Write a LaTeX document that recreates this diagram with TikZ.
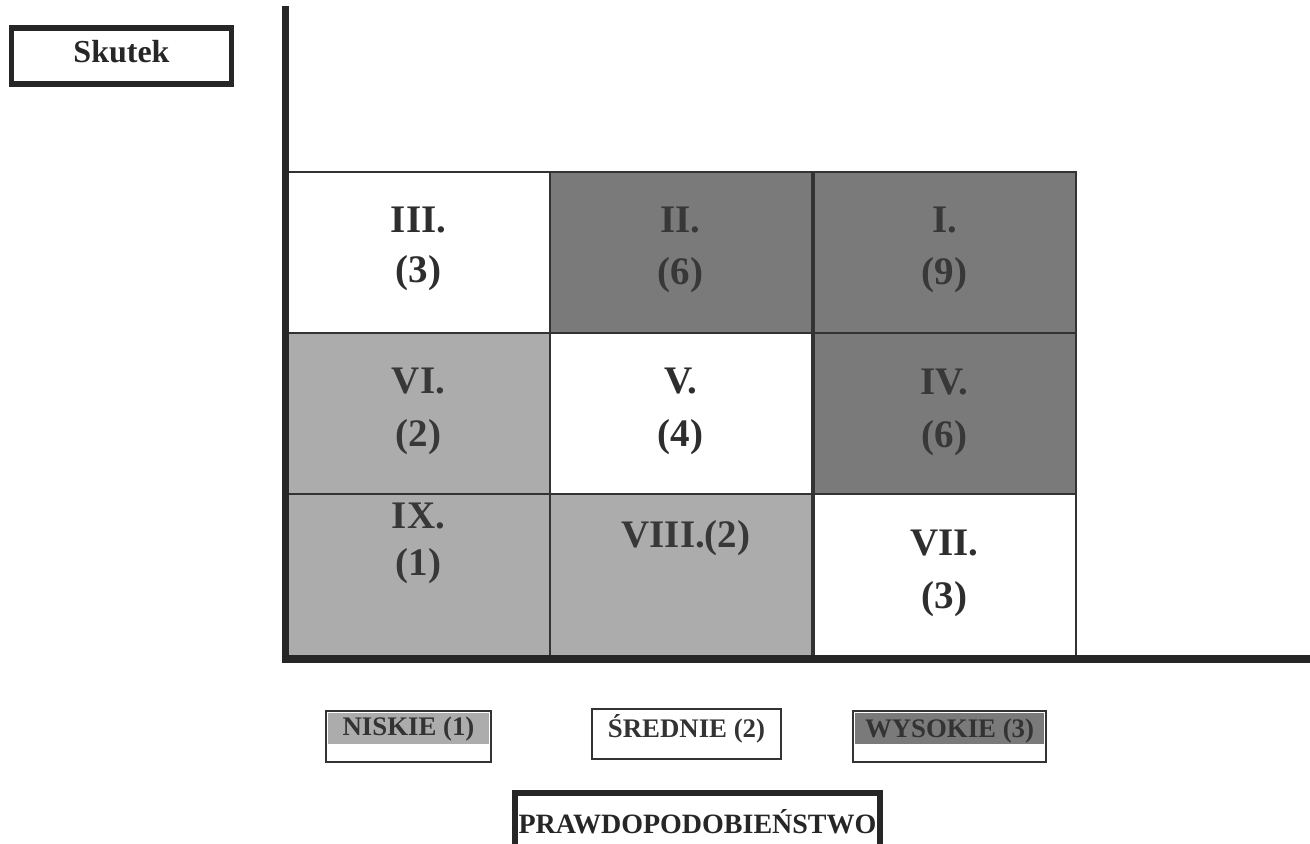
\documentclass[tikz,border=0pt]{standalone}
\usepackage{fontspec}
\setmainfont{Liberation Serif}
\begin{document}
\begin{tikzpicture}[x=0.5pt,y=-0.5pt,
  cell/.style={draw=black!80, line width=1pt, inner sep=0pt, minimum width=131pt, minimum height=81pt},
  celltxt/.style={font=\fontsize{19.5}{22}\selectfont\bfseries, text=black!82},
  darktxt/.style={font=\fontsize{19.5}{22}\selectfont\bfseries, text=black!78},
  legbox/.style={draw=black!80, line width=1pt, inner sep=0pt},
  legtxt/.style={font=\fontsize{13.4}{16}\selectfont\bfseries, text=black!80},
  axis/.style={draw=black!85, line width=3.8pt}
]
\useasboundingbox (0,0) rectangle (1310,844);
\definecolor{cdark}{RGB}{122,122,122}
\definecolor{clight}{RGB}{172,172,172}
% Skutek box
\node[draw=black!85, line width=2.6pt, minimum width=110pt, minimum height=28pt, inner sep=0pt] (sk) at (121.5,56) {};
\node[font=\fontsize{16}{18}\selectfont\bfseries, text=black!85] (skt) at (121.5,52) {Skutek};
% cells row 1
\node[cell, fill=white] (c13) at (418.5,253) {};
\node[cell, fill=cdark] (c12) at (680.5,253) {};
\node[cell, fill=cdark] (c11) at (944.5,253) {};
% row 2
\node[cell, fill=clight] (c23) at (418.5,414) {};
\node[cell, fill=white] (c22) at (680.5,414) {};
\node[cell, fill=cdark] (c21) at (944.5,414) {};
% row 3
\node[cell, fill=clight] (c33) at (418.5,575) {};
\node[cell, fill=clight] (c32) at (680.5,575) {};
\node[cell, fill=white] (c31) at (944.5,575) {};
% texts
\node[celltxt] (t3a) at (418.5,220) {III.};
\node[celltxt] (t3b) at (418.5,273) {(3)};
\node[darktxt] (t2a) at (680.5,220) {II.};
\node[darktxt] (t2b) at (680.5,275) {(6)};
\node[darktxt] (t1a) at (944.5,220) {I.};
\node[darktxt] (t1b) at (944.5,275) {(9)};
\node[darktxt] (t6a) at (418.5,381) {VI.};
\node[darktxt] (t6b) at (418.5,437) {(2)};
\node[celltxt] (t5a) at (680.5,381) {V.};
\node[celltxt] (t5b) at (680.5,437) {(4)};
\node[darktxt] (t4a) at (944.5,382) {IV.};
\node[darktxt] (t4b) at (944.5,438) {(6)};
\node[darktxt] (t9a) at (418.5,516) {IX.};
\node[darktxt] (t9b) at (418.5,566) {(1)};
\node[darktxt] (t8) at (686,538) {VIII.(2)};
\node[celltxt] (t7a) at (944.5,543) {VII.};
\node[celltxt] (t7b) at (944.5,599) {(3)};
% axes
\coordinate (ytop) at (285.5,10);
\coordinate (orig) at (285.5,659);
\coordinate (xend) at (1310,659);
\draw[axis, line cap=rect] (ytop) -- (orig);
\draw[axis, line width=4.2pt] (281.5,659) -- (xend);
% legend boxes
\node[legbox, minimum width=82.5pt, minimum height=25.5pt] (nis) at (408.5,736.5) {};
\fill[clight] ([xshift=1.5pt,yshift=-1.5pt]nis.north west) rectangle ([xshift=-1.5pt,yshift=-17pt]nis.north east);
\node[legtxt] (nist) at (408.5,729) {NISKIE (1)};
\node[legbox, minimum width=94.5pt, minimum height=25pt] (sre) at (686.5,734) {};
\node[legtxt] (sret) at (686.5,729) {ŚREDNIE (2)};
\node[legbox, minimum width=96.5pt, minimum height=25.5pt] (wys) at (949.5,736.5) {};
\fill[cdark] ([xshift=1.5pt,yshift=-1.5pt]wys.north west) rectangle ([xshift=-1.5pt,yshift=-17pt]wys.north east);
\node[legtxt] (wyst) at (949.5,731) {WYSOKIE (3)};
% prawdopodobienstwo
\node[draw=black!85, line width=2.6pt, minimum width=182.5pt, minimum height=30pt, inner sep=0pt] (pr) at (697.5,823) {};
\node[legtxt, text=black!85, font=\fontsize{14}{16}\selectfont\bfseries] (prt) at (697.5,822) {PRAWDOPODOBIEŃSTWO};
\end{tikzpicture}
\end{document}
